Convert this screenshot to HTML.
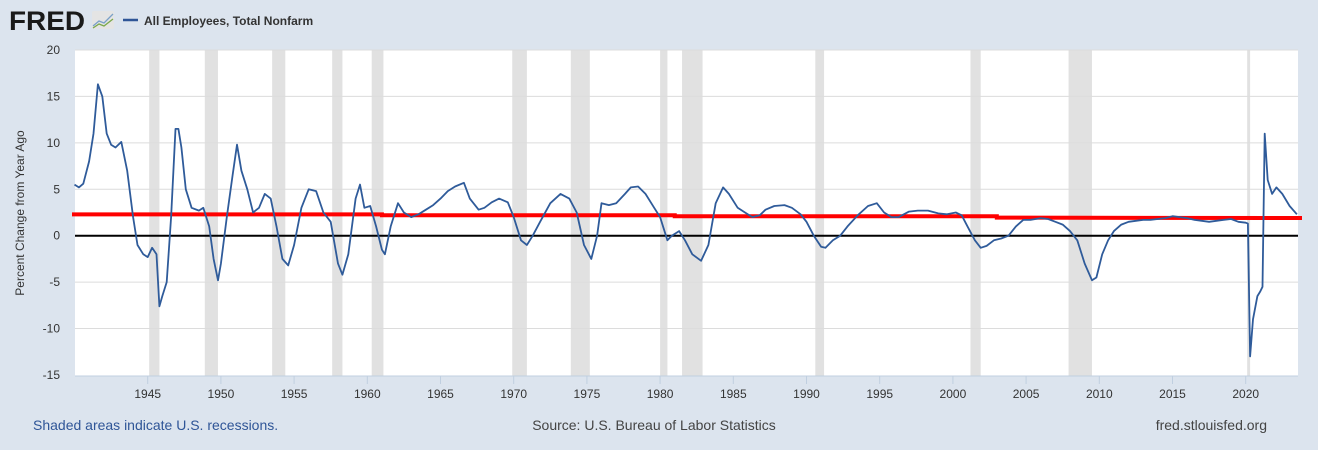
<!DOCTYPE html>
<html><head><meta charset="utf-8"><style>
body{margin:0;width:1318px;height:450px;background:#dce4ee;font-family:"Liberation Sans",sans-serif;overflow:hidden}
</style></head><body>
<svg id="s" width="1318" height="450" xmlns="http://www.w3.org/2000/svg" style="position:absolute;left:0;top:0">
<text x="9" y="30" font-size="27" font-weight="bold" fill="#1a1a1a" font-family="Liberation Sans,sans-serif" textLength="76" lengthAdjust="spacingAndGlyphs">FRED</text>
<rect x="92" y="11" width="22" height="18" fill="#e4e4e4" rx="2"/>
<polyline points="93,26 99,21 104,23 113,14" fill="none" stroke="#7aa0c8" stroke-width="1.3"/>
<polyline points="93,28 99,24 104,26 113,19" fill="none" stroke="#7ba84a" stroke-width="1.3"/>
<line x1="123" y1="20" x2="138" y2="20" stroke="#2f5597" stroke-width="2.5"/>
<text x="144" y="25" font-size="12" font-weight="bold" fill="#333">All Employees, Total Nonfarm</text>
<rect x="75" y="50" width="1223" height="326" fill="#fff"/>
<g id="rec" fill="#e1e1e1"></g>
<g id="grid" stroke="#dcdcdc" stroke-width="1"></g>
<line x1="75" y1="376" x2="1298" y2="376" stroke="#c0cfe0"/>
<g id="ticks" stroke="#c0cfe0"></g>
<g id="ylab" font-size="12" fill="#333" text-anchor="end"></g>
<g id="xlab" font-size="12" fill="#333" text-anchor="middle"></g>
<line x1="75" y1="235.7" x2="1298" y2="235.7" stroke="#000" stroke-width="2"/>
<polyline id="red" fill="none" stroke="#ff0000" stroke-width="4"/>
<polyline id="ser" fill="none" stroke="#2f5b9a" stroke-width="1.8" stroke-linejoin="round"/>
<text transform="translate(24,213) rotate(-90)" font-size="12" fill="#333" text-anchor="middle">Percent Change from Year Ago</text>
<text x="33" y="430" font-size="14" fill="#2f5597">Shaded areas indicate U.S. recessions.</text>
<text x="654" y="430" font-size="14" fill="#444" text-anchor="middle">Source: U.S. Bureau of Labor Statistics</text>
<text x="1267" y="430" font-size="14" fill="#444" text-anchor="end">fred.stlouisfed.org</text>
</svg>
<script>
var NS="http://www.w3.org/2000/svg";
function X(t){return 147.7+(t-1945)*14.64}
function Y(v){return 235.7-v*9.286}
function el(p,n,a,txt){var e=document.createElementNS(NS,n);for(var k in a)e.setAttribute(k,a[k]);if(txt)e.textContent=txt;document.getElementById(p).appendChild(e)}
var rec=[[1945.1,1945.8],[1948.9,1949.8],[1953.5,1954.4],[1957.6,1958.3],[1960.3,1961.1],[1969.9,1970.9],[1973.9,1975.2],[1980.0,1980.5],[1981.5,1982.9],[1990.6,1991.2],[2001.2,2001.9],[2007.9,2009.5],[2020.1,2020.3]];
rec.forEach(function(r){el("rec","rect",{x:X(r[0]),y:50,width:X(r[1])-X(r[0]),height:326})});
for(var v=-10;v<=20;v+=5){if(v==0)continue;el("grid","line",{x1:75,x2:1298,y1:Y(v),y2:Y(v)})}
for(var v=-15;v<=20;v+=5)el("ylab","text",{x:60,y:Y(v)+4},""+v);
for(var t=1945;t<=2020;t+=5){el("ticks","line",{x1:X(t),x2:X(t),y1:376,y2:384});el("xlab","text",{x:X(t),y:398},""+t)}
var d=[1940,5.5,1940.3,5.2,1940.6,5.6,1941,8,1941.3,11,1941.6,16.3,1941.9,15,1942.2,11,1942.5,9.8,1942.8,9.5,1943.2,10.1,1943.6,7,1944,2,1944.3,-1,1944.7,-2,1945,-2.3,1945.3,-1.3,1945.6,-2,1945.8,-7.6,1946,-6.5,1946.3,-5,1946.6,2,1946.9,11.5,1947.1,11.5,1947.3,9.5,1947.6,5,1948,3,1948.5,2.7,1948.8,3,1949.2,1,1949.5,-2.5,1949.8,-4.8,1950,-3,1950.4,2,1950.8,6.5,1951.1,9.8,1951.4,7,1951.8,5,1952.2,2.5,1952.6,3,1953,4.5,1953.4,4,1953.8,1,1954.2,-2.5,1954.6,-3.2,1955,-1,1955.5,3,1956,5,1956.5,4.8,1957,2.5,1957.5,1.5,1958,-3,1958.3,-4.2,1958.7,-2,1959.2,4,1959.5,5.5,1959.8,3,1960.2,3.2,1960.6,1,1961,-1.5,1961.2,-2,1961.6,1,1962.1,3.5,1962.5,2.5,1963,2,1963.5,2.3,1964,2.8,1964.5,3.3,1965,4,1965.5,4.8,1966,5.3,1966.6,5.7,1967,4,1967.6,2.8,1968,3,1968.5,3.6,1969,4,1969.6,3.6,1970,2,1970.5,-0.5,1970.9,-1,1971.3,0,1971.8,1.5,1972.5,3.5,1973.2,4.5,1973.8,4,1974.3,2.5,1974.8,-1,1975.3,-2.5,1975.7,0,1976,3.5,1976.5,3.3,1977,3.5,1977.6,4.5,1978,5.2,1978.5,5.3,1979,4.5,1979.6,3,1980,2,1980.5,-0.5,1980.8,0,1981.3,0.5,1981.7,-0.5,1982.2,-2,1982.8,-2.7,1983.3,-1,1983.8,3.5,1984.3,5.2,1984.7,4.5,1985.3,3,1985.8,2.5,1986.3,2,1986.8,2.2,1987.2,2.8,1987.8,3.2,1988.5,3.3,1989,3,1989.6,2.3,1990,1.5,1990.5,0,1991,-1.2,1991.3,-1.3,1991.8,-0.5,1992.3,0,1992.8,1,1993.5,2.2,1994.2,3.2,1994.8,3.5,1995.3,2.5,1995.8,2,1996.3,2,1997,2.6,1997.6,2.7,1998.3,2.7,1999,2.4,1999.6,2.3,2000.2,2.5,2000.6,2.2,2001,1,2001.5,-0.5,2001.9,-1.3,2002.3,-1.1,2002.8,-0.5,2003.3,-0.3,2003.8,0,2004.3,1,2004.8,1.7,2005.3,1.7,2006,1.9,2006.5,1.8,2007,1.5,2007.5,1.2,2008,0.5,2008.5,-0.5,2009,-3,2009.5,-4.8,2009.8,-4.5,2010.2,-2,2010.6,-0.5,2011,0.5,2011.5,1.2,2012,1.5,2012.5,1.6,2013,1.7,2013.5,1.7,2014,1.8,2014.5,1.9,2015,2.1,2015.5,2,2016,1.9,2016.5,1.7,2017,1.6,2017.5,1.5,2018,1.6,2018.5,1.7,2019,1.8,2019.5,1.5,2020,1.4,2020.15,1.3,2020.3,-13,2020.5,-9,2020.8,-6.5,2021,-6,2021.15,-5.5,2021.3,11,2021.5,6,2021.8,4.5,2022.1,5.2,2022.5,4.5,2023,3.2,2023.5,2.3];
var p=[];for(var i=0;i<d.length;i+=2)p.push(X(d[i]).toFixed(1)+","+Y(d[i+1]).toFixed(1));
document.getElementById("ser").setAttribute("points",p.join(" "));
document.getElementById("red").setAttribute("points",[72+","+Y(2.3),X(1961)+","+Y(2.3),X(1961)+","+Y(2.2),X(1981)+","+Y(2.2),X(1981)+","+Y(2.1),X(2003)+","+Y(2.1),X(2003)+","+Y(1.95),"1302,"+Y(1.9)].join(" "));
</script>
</body></html>
